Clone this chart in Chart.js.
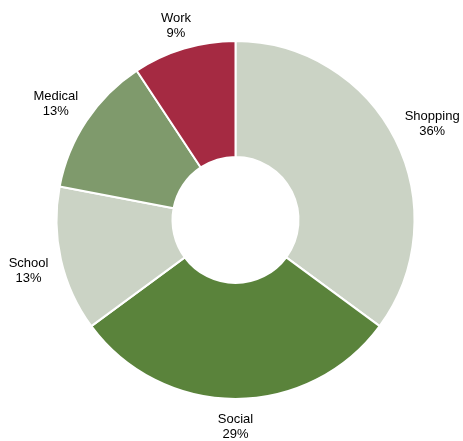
<!DOCTYPE html>
<html>
<head>
<meta charset="utf-8">
<script src="https://cdn.jsdelivr.net/npm/chart.js@4/dist/chart.umd.min.js"></script>
<style>
  html, body { margin: 0; padding: 0; background: #fff; }
  #wrap { width: 463px; height: 441px; }
</style>
</head>
<body>
<div id="wrap"><canvas id="donut" width="463" height="441"></canvas></div>
<script>
const categories = ["Shopping", "Social", "School", "Medical", "Work"];
// slice sizes as measured from the wedge angles
const shares = [35.1, 29.8, 13.1, 12.7, 9.3];
// percentages as printed on the chart
const pctLabels = ["36%", "29%", "13%", "13%", "9%"];
const sliceColors = ["#cbd3c5", "#5a833b", "#cbd3c5", "#7f9a6c", "#a52a42"];

// draws "Name\nNN%" outside each slice, pushed out so the text block clears the ring
const outsideLabels = {
  id: "outsideLabels",
  afterDatasetsDraw(chart) {
    const ctx = chart.ctx;
    const meta = chart.getDatasetMeta(0);
    const lineGap = 15;
    const halfH = 13;
    ctx.save();
    ctx.font = "13px 'Liberation Sans', Arial, sans-serif";
    ctx.fillStyle = "#000";
    ctx.textAlign = "center";
    ctx.textBaseline = "middle";
    meta.data.forEach((arc, i) => {
      const { x, y, startAngle, endAngle, outerRadius } = arc.getProps(["x", "y", "startAngle", "endAngle", "outerRadius"], true);
      const mid = (startAngle + endAngle) / 2;
      const ux = Math.cos(mid), uy = Math.sin(mid);
      const halfW = Math.max(ctx.measureText(categories[i]).width, ctx.measureText(pctLabels[i]).width) / 2;
      const r = outerRadius + 11 + Math.abs(ux) * halfW + Math.abs(uy) * halfH;
      const lx = x + ux * r;
      const ly = y + uy * r + 3.5;
      ctx.fillText(categories[i], lx, ly - lineGap / 2);
      ctx.fillText(pctLabels[i], lx, ly + lineGap / 2);
    });
    ctx.restore();
  }
};

const ctx = document.getElementById("donut").getContext("2d");
new Chart(ctx, {
  type: "doughnut",
  data: {
    labels: categories,
    datasets: [{
      data: shares,
      backgroundColor: sliceColors,
      borderColor: "#fff",
      borderWidth: 2,
      hoverOffset: 0
    }]
  },
  options: {
    responsive: false,
    animation: false,
    radius: 179,
    cutout: "35.2%",
    layout: { padding: { left: 8, right: 0, top: 0, bottom: 1 } },
    plugins: {
      legend: { display: false },
      tooltip: { enabled: false }
    }
  },
  plugins: [outsideLabels]
});
</script>
</body>
</html>
